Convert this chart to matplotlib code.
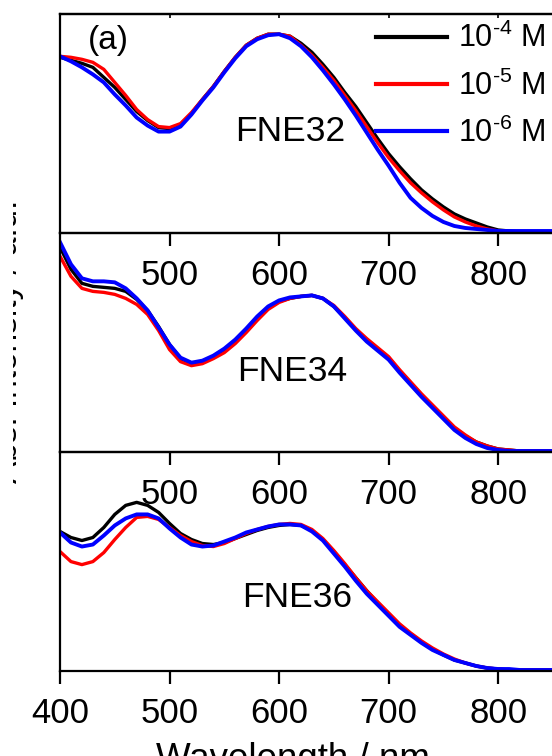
import numpy as np
import matplotlib
matplotlib.use('Agg')
import matplotlib.pyplot as plt
from matplotlib.transforms import Bbox

plt.rcParams['font.family'] = ['Liberation Sans', 'DejaVu Sans']
plt.rcParams['mathtext.fontset'] = 'custom'
plt.rcParams['mathtext.rm'] = 'Liberation Sans'
plt.rcParams['mathtext.it'] = 'Liberation Sans:italic'
plt.rcParams['mathtext.default'] = 'regular'

# wavelength grid (nm)
wl = np.arange(400, 851, 10)

# FNE32 (top panel), a.u.
fne32_m4 = [175, 172, 169, 165, 155, 145, 133, 121, 112, 105, 104, 108, 119, 133, 146, 161,
            175, 187, 194, 198, 198, 196, 189, 180, 168, 155, 140, 126, 110, 94, 79, 66,
            54, 43, 34, 26, 19, 14, 10, 6, 3, 2, 1, 1, 1, 1]
fne32_m5 = [176, 175, 173, 170, 163, 150, 137, 123, 113, 106, 105, 109, 120, 133, 146, 161,
            175, 187, 194, 198, 198, 196, 187, 177, 165, 152, 137, 122, 106, 90, 75, 62,
            50, 40, 31, 23, 16, 11, 7, 4, 2, 1, 1, 1, 1, 1]
fne32_m6 = [176, 171, 165, 158, 150, 138, 127, 115, 107, 101, 101, 106, 118, 132, 145, 160,
            174, 186, 193, 197, 198, 194, 186, 175, 162, 148, 133, 117, 100, 83, 67, 50,
            35, 25, 17, 11, 7, 5, 4, 3, 2, 2, 2, 2, 2, 2]

# FNE34 (middle panel)
fne34_m4 = [204, 182, 168, 165, 164, 163, 160, 152, 141, 125, 107, 93, 88, 90, 95, 101,
            110, 121, 133, 143, 150, 153, 155, 156, 153, 145, 134, 122, 112, 103, 94, 81,
            69, 57, 46, 35, 24, 16, 10, 6, 3, 2, 1, 1, 1, 1]
fne34_m5 = [195, 175, 163, 160, 159, 157, 153, 147, 137, 121, 102, 90, 86, 88, 93, 99,
            108, 119, 131, 142, 149, 153, 155, 156, 153, 146, 135, 123, 113, 104, 95, 82,
            70, 58, 47, 36, 25, 17, 10, 6, 3, 2, 1, 1, 1, 1]
fne34_m6 = [209, 187, 173, 170, 170, 169, 163, 153, 141, 124, 107, 94, 89, 91, 96, 103,
            112, 123, 135, 145, 151, 154, 155, 156, 153, 145, 133, 121, 110, 101, 92, 79,
            67, 55, 44, 33, 22, 14, 8, 4, 2, 1, 1, 1, 1, 1]

# FNE36 (bottom panel)
fne36_m4 = [139, 133, 130, 133, 143, 156, 165, 168, 165, 158, 147, 137, 131, 127, 126, 128,
            132, 136, 140, 143, 145, 146, 145, 140, 131, 119, 106, 93, 80, 68, 57, 46,
            37, 29, 22, 16, 11, 8, 5, 3, 2, 1, 1, 1, 1, 1]
fne36_m5 = [119, 109, 106, 109, 118, 131, 143, 153, 154, 151, 143, 135, 129, 125, 124, 127,
            132, 137, 141, 144, 146, 147, 146, 141, 132, 120, 107, 93, 80, 69, 58, 47,
            38, 30, 23, 17, 12, 8, 5, 3, 2, 1, 1, 1, 1, 1]
fne36_m6 = [138, 128, 124, 126, 135, 145, 152, 156, 156, 152, 142, 133, 126, 124, 125, 129,
            133, 138, 141, 144, 146, 146, 145, 139, 130, 117, 104, 90, 77, 66, 55, 44,
            36, 28, 21, 16, 11, 8, 5, 3, 2, 2, 1, 1, 1, 1]

panels = [('FNE32', fne32_m4, fne32_m5, fne32_m6, (560, 101)),
          ('FNE34', fne34_m4, fne34_m5, fne34_m6, (562, 80)),
          ('FNE36', fne36_m4, fne36_m5, fne36_m6, (566, 73))]

conc_labels = [r'10$^{\text{-4}}$ M', r'10$^{\text{-5}}$ M', r'10$^{\text{-6}}$ M']
colors = ['black', 'red', 'blue']

fig = plt.figure(figsize=(5.52, 7.56), dpi=100)
left, width, h = 0.1087, 0.893, 0.2895
bottoms = [0.6918, 0.4021, 0.1124]

fs = 25
axes = []
for i, (name, a, b, c, pos) in enumerate(panels):
    ax = fig.add_axes([left, bottoms[i], width, h])
    ax.patch.set_visible(False)
    ax.plot(wl, a, color=colors[0], lw=2.4, label=conc_labels[0])
    ax.plot(wl, b, color=colors[1], lw=2.4, label=conc_labels[1])
    ax.plot(wl, c, color=colors[2], lw=2.8, label=conc_labels[2])
    ax.set_xlim(400, 850)
    ax.set_ylim(0, 218)
    ax.set_yticks([])
    ax.spines['right'].set_visible(False)
    for s in ['left', 'bottom', 'top']:
        ax.spines[s].set_linewidth(1.6)
    if i < 2:
        ax.set_xticks([500, 600, 700, 800])
    else:
        ax.set_xticks([400, 500, 600, 700, 800])
    ax.tick_params(axis='x', direction='out', length=9, width=1.6, pad=10, labelsize=fs)
    ax.text(pos[0], pos[1], name, fontsize=25.5, ha='left', va='center')
    axes.append(ax)

# small inward ticks on the top edge of the first panel
top = axes[0].secondary_xaxis('top')
top.set_xticks([500, 600, 700, 800])
top.tick_params(direction='in', length=3, width=1.2, labeltop=False)
top.spines['top'].set_linewidth(1.6)

axes[0].text(425.5, 192, '(a)', fontsize=24, ha='left', va='center')
leg = axes[0].legend(loc='upper right', bbox_to_anchor=(1.0 - 8 / 493, 1.0 - 9 / 219),
                     frameon=False, fontsize=22, handlelength=2.35, handletextpad=0.33,
                     labelspacing=0.52, borderaxespad=0.0, borderpad=0.0)
for line in leg.get_lines():
    line.set_linewidth(3)

# y label is cut by the left edge of the picture, as in the original
ylab = fig.text(0.0434, 0.548, 'Abs. Intensity / a.u.', rotation=90, fontsize=24,
                ha='right', va='center')
ylab.set_clip_box(Bbox([[13, 0], [60, 756]]))
ylab.set_clip_on(True)
fig.text(0.531, 0.0185, 'Wavelength / nm', fontsize=26.5, ha='center', va='top')

fig.savefig('out.png', dpi=100)
